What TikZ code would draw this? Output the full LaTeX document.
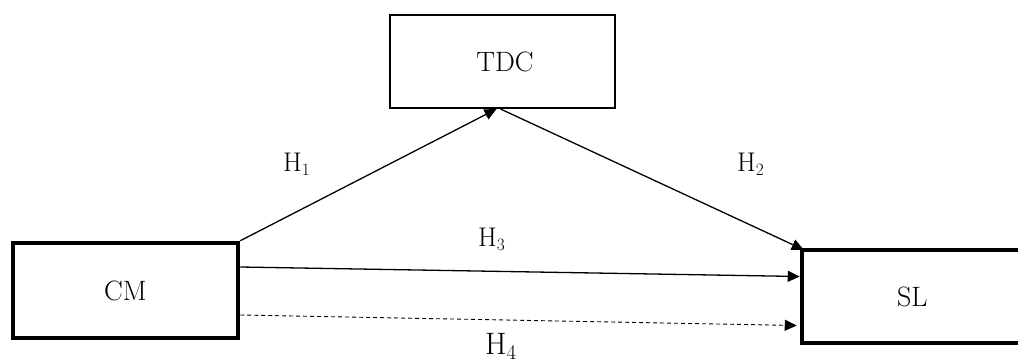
\documentclass[tikz,border=0pt]{standalone}
\usepackage{fontspec}
\usetikzlibrary{arrows.meta}
\begin{document}
\begin{tikzpicture}[x=1pt,y=-1pt,
  box/.style={draw,rectangle,inner sep=0pt,font=\fontsize{28}{32}\selectfont},
  lab/.style={font=\fontsize{27}{31}\selectfont,inner sep=0pt,anchor=base west},
  arr/.style={line width=1.3pt,-{Triangle[length=12pt,width=11pt]}}]
\useasboundingbox (0,0) rectangle (1018,363);
\begin{scope}
\clip (0,0) rectangle (1018,363);
\node[box,line width=2pt,minimum width=225pt,minimum height=93pt] (TDC) at (502.5,61.5) {\hspace{5pt}TDC};
\node[box,line width=4.5pt,minimum width=225pt,minimum height=95pt] (CM) at (125.5,290.5) {CM};
\node[box,line width=4.5pt,minimum width=238pt,minimum height=93pt,text width=238pt,align=left] (SL) at (921,296.5) {\hspace{95pt}SL};
\end{scope}
\draw[arr] (CM.north east) -- ([xshift=-6pt]TDC.south);
\draw[arr] ([xshift=-2pt]TDC.south) -- ([xshift=4pt,yshift=-2pt]SL.north west);
\draw[arr] ([yshift=23.5pt]CM.east) -- ([yshift=20pt]SL.west);
\draw[arr,line width=0.9pt,dash pattern=on 4pt off 3pt] ([yshift=-24.5pt]CM.east) -- ([xshift=-3pt,yshift=-29pt]SL.west);
\node[lab] (h1) at (283,172) {H$_1$};
\node[lab] (h2) at (737,172) {H$_2$};
\node[lab] (h3) at (478,247) {H$_3$};
\node[lab,font=\fontsize{31}{35}\selectfont] (h4) at (485,355) {H$_4$};
\end{tikzpicture}
\end{document}
